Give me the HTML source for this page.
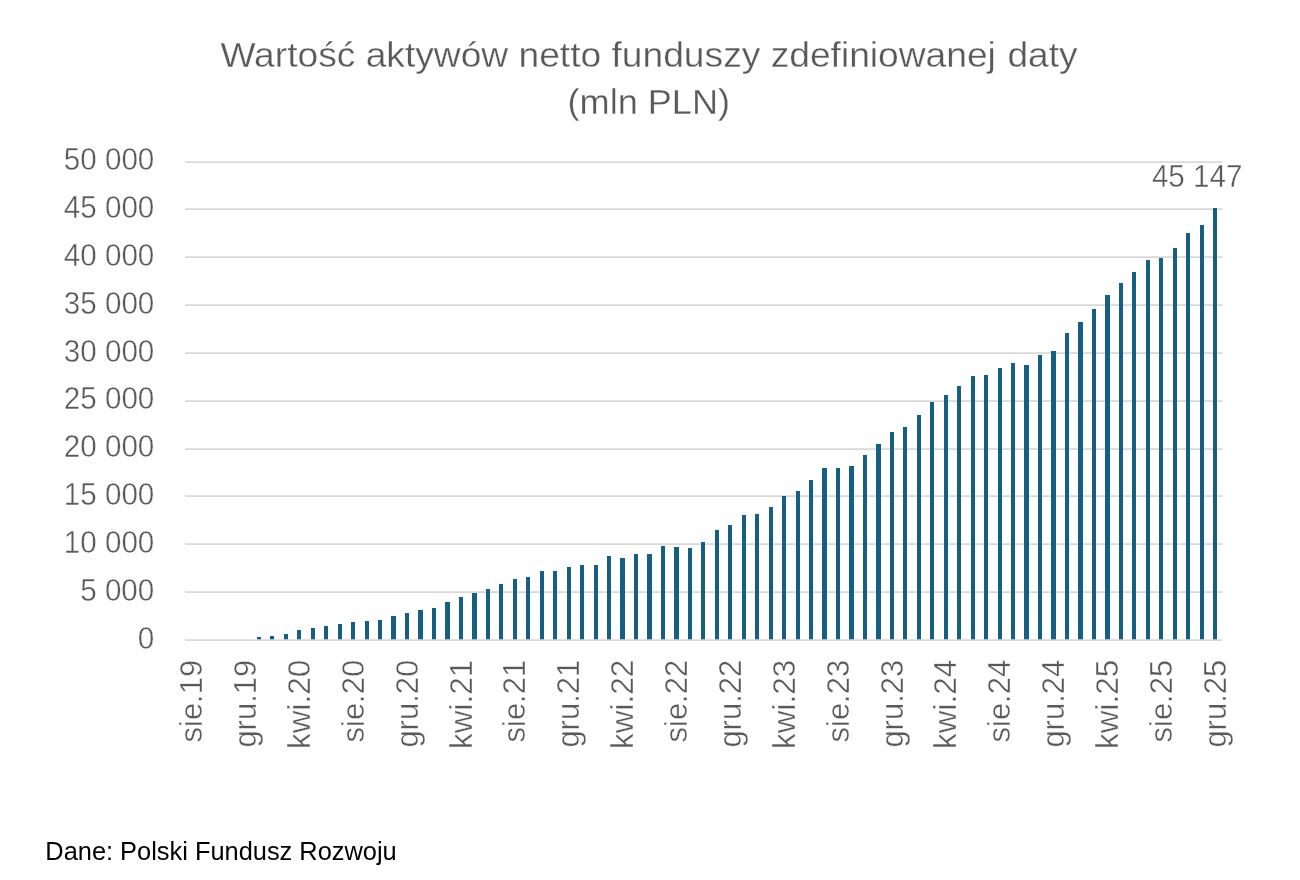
<!DOCTYPE html>
<html lang="pl"><head><meta charset="utf-8"><title>Wartość aktywów netto funduszy zdefiniowanej daty</title>
<style>
html,body{margin:0;padding:0;background:#fff}
body{width:1300px;height:880px;overflow:hidden;font-family:"Liberation Sans",sans-serif}
svg{display:block}
text{font-family:"Liberation Sans",sans-serif}
.t{fill:#595959;font-size:35px;stroke:#fff;stroke-width:.3px}
.a{fill:#595959;font-size:31px;stroke:#fff;stroke-width:.38px}
.f{fill:#000;font-size:25.4px}
</style></head><body>
<svg width="1300" height="880" viewBox="0 0 1300 880">
<rect width="1300" height="880" fill="#fff"/>
<text class="t" y="66.6"><tspan x="220.4" textLength="775.5" lengthAdjust="spacingAndGlyphs">Wartość aktywów netto funduszy zdefiniowanej</tspan> <tspan x="1007.5" textLength="70" lengthAdjust="spacingAndGlyphs">daty</tspan></text>
<text class="t" x="648.8" y="113.8" text-anchor="middle" textLength="162.5" lengthAdjust="spacingAndGlyphs">(mln PLN)</text>
<g stroke="#d9d9d9" stroke-width="1.7">
<line x1="185" x2="1222" y1="162.1" y2="162.1"/>
<line x1="185" x2="1222" y1="209.1" y2="209.1"/>
<line x1="185" x2="1222" y1="257.1" y2="257.1"/>
<line x1="185" x2="1222" y1="305.1" y2="305.1"/>
<line x1="185" x2="1222" y1="353.1" y2="353.1"/>
<line x1="185" x2="1222" y1="401.1" y2="401.1"/>
<line x1="185" x2="1222" y1="449.1" y2="449.1"/>
<line x1="185" x2="1222" y1="496.1" y2="496.1"/>
<line x1="185" x2="1222" y1="544.1" y2="544.1"/>
<line x1="185" x2="1222" y1="592.1" y2="592.1"/>
</g>
<g fill="#156082">
<rect x="257" y="637" width="4" height="3"/>
<rect x="270" y="636" width="4" height="4"/>
<rect x="284" y="634" width="4" height="6"/>
<rect x="297" y="630" width="4" height="10"/>
<rect x="311" y="628" width="4" height="12"/>
<rect x="324" y="626" width="4" height="14"/>
<rect x="338" y="624" width="4" height="16"/>
<rect x="351" y="622" width="4" height="18"/>
<rect x="365" y="621" width="4" height="19"/>
<rect x="378" y="620" width="4" height="20"/>
<rect x="391" y="616" width="5" height="24"/>
<rect x="405" y="613" width="4" height="27"/>
<rect x="418" y="610" width="5" height="30"/>
<rect x="432" y="608" width="4" height="32"/>
<rect x="445" y="602" width="5" height="38"/>
<rect x="459" y="597" width="4" height="43"/>
<rect x="472" y="593" width="5" height="47"/>
<rect x="486" y="589" width="4" height="51"/>
<rect x="499" y="584" width="4" height="56"/>
<rect x="513" y="579" width="4" height="61"/>
<rect x="526" y="577" width="4" height="63"/>
<rect x="540" y="571" width="4" height="69"/>
<rect x="553" y="571" width="4" height="69"/>
<rect x="567" y="567" width="4" height="73"/>
<rect x="580" y="565" width="4" height="75"/>
<rect x="594" y="565" width="4" height="75"/>
<rect x="607" y="556" width="4" height="84"/>
<rect x="620" y="558" width="5" height="82"/>
<rect x="634" y="554" width="4" height="86"/>
<rect x="647" y="554" width="5" height="86"/>
<rect x="661" y="546" width="4" height="94"/>
<rect x="674" y="547" width="5" height="93"/>
<rect x="688" y="548" width="4" height="92"/>
<rect x="701" y="542" width="4" height="98"/>
<rect x="715" y="530" width="4" height="110"/>
<rect x="728" y="525" width="4" height="115"/>
<rect x="742" y="515" width="4" height="125"/>
<rect x="755" y="514" width="4" height="126"/>
<rect x="769" y="507" width="4" height="133"/>
<rect x="782" y="496" width="4" height="144"/>
<rect x="796" y="491" width="4" height="149"/>
<rect x="809" y="480" width="4" height="160"/>
<rect x="822" y="468" width="5" height="172"/>
<rect x="836" y="468" width="4" height="172"/>
<rect x="849" y="466" width="5" height="174"/>
<rect x="863" y="455" width="4" height="185"/>
<rect x="876" y="444" width="5" height="196"/>
<rect x="890" y="432" width="4" height="208"/>
<rect x="903" y="427" width="4" height="213"/>
<rect x="917" y="415" width="4" height="225"/>
<rect x="930" y="402" width="4" height="238"/>
<rect x="944" y="395" width="4" height="245"/>
<rect x="957" y="386" width="4" height="254"/>
<rect x="971" y="376" width="4" height="264"/>
<rect x="984" y="375" width="4" height="265"/>
<rect x="998" y="368" width="4" height="272"/>
<rect x="1011" y="363" width="4" height="277"/>
<rect x="1024" y="365" width="5" height="275"/>
<rect x="1038" y="355" width="4" height="285"/>
<rect x="1051" y="351" width="5" height="289"/>
<rect x="1065" y="333" width="4" height="307"/>
<rect x="1078" y="322" width="5" height="318"/>
<rect x="1092" y="309" width="4" height="331"/>
<rect x="1105" y="295" width="5" height="345"/>
<rect x="1119" y="283" width="4" height="357"/>
<rect x="1132" y="272" width="4" height="368"/>
<rect x="1146" y="260" width="4" height="380"/>
<rect x="1159" y="258" width="4" height="382"/>
<rect x="1173" y="248" width="4" height="392"/>
<rect x="1186" y="233" width="4" height="407"/>
<rect x="1200" y="225" width="4" height="415"/>
<rect x="1213" y="208" width="4" height="432"/>
</g>
<line x1="185" x2="1222" y1="640.1" y2="640.1" stroke="#d9d9d9" stroke-width="1.7"/>
<g class="a" text-anchor="end">
<text x="154.3" y="170.1" textLength="90.5" lengthAdjust="spacingAndGlyphs">50 000</text>
<text x="154.3" y="217.9" textLength="90.5" lengthAdjust="spacingAndGlyphs">45 000</text>
<text x="154.3" y="265.8" textLength="90.5" lengthAdjust="spacingAndGlyphs">40 000</text>
<text x="154.3" y="313.6" textLength="90.5" lengthAdjust="spacingAndGlyphs">35 000</text>
<text x="154.3" y="361.5" textLength="90.5" lengthAdjust="spacingAndGlyphs">30 000</text>
<text x="154.3" y="409.4" textLength="90.5" lengthAdjust="spacingAndGlyphs">25 000</text>
<text x="154.3" y="457.2" textLength="90.5" lengthAdjust="spacingAndGlyphs">20 000</text>
<text x="154.3" y="505.0" textLength="90.5" lengthAdjust="spacingAndGlyphs">15 000</text>
<text x="154.3" y="552.9" textLength="90.5" lengthAdjust="spacingAndGlyphs">10 000</text>
<text x="154.3" y="600.8" textLength="74.1" lengthAdjust="spacingAndGlyphs">5 000</text>
<text x="154.3" y="648.6" textLength="16.5" lengthAdjust="spacingAndGlyphs">0</text>
</g>
<g class="a" text-anchor="end">
<text transform="translate(202.2 659.8) rotate(-90)" textLength="82.7" lengthAdjust="spacingAndGlyphs">sie.19</text>
<text transform="translate(256.1 659.8) rotate(-90)" textLength="87.8" lengthAdjust="spacingAndGlyphs">gru.19</text>
<text transform="translate(310.0 659.8) rotate(-90)" textLength="89.2" lengthAdjust="spacingAndGlyphs">kwi.20</text>
<text transform="translate(363.8 659.8) rotate(-90)" textLength="82.7" lengthAdjust="spacingAndGlyphs">sie.20</text>
<text transform="translate(417.7 659.8) rotate(-90)" textLength="87.8" lengthAdjust="spacingAndGlyphs">gru.20</text>
<text transform="translate(471.6 659.8) rotate(-90)" textLength="89.2" lengthAdjust="spacingAndGlyphs">kwi.21</text>
<text transform="translate(525.4 659.8) rotate(-90)" textLength="82.7" lengthAdjust="spacingAndGlyphs">sie.21</text>
<text transform="translate(579.3 659.8) rotate(-90)" textLength="87.8" lengthAdjust="spacingAndGlyphs">gru.21</text>
<text transform="translate(633.1 659.8) rotate(-90)" textLength="89.2" lengthAdjust="spacingAndGlyphs">kwi.22</text>
<text transform="translate(687.0 659.8) rotate(-90)" textLength="82.7" lengthAdjust="spacingAndGlyphs">sie.22</text>
<text transform="translate(740.9 659.8) rotate(-90)" textLength="87.8" lengthAdjust="spacingAndGlyphs">gru.22</text>
<text transform="translate(794.7 659.8) rotate(-90)" textLength="89.2" lengthAdjust="spacingAndGlyphs">kwi.23</text>
<text transform="translate(848.6 659.8) rotate(-90)" textLength="82.7" lengthAdjust="spacingAndGlyphs">sie.23</text>
<text transform="translate(902.5 659.8) rotate(-90)" textLength="87.8" lengthAdjust="spacingAndGlyphs">gru.23</text>
<text transform="translate(956.3 659.8) rotate(-90)" textLength="89.2" lengthAdjust="spacingAndGlyphs">kwi.24</text>
<text transform="translate(1010.2 659.8) rotate(-90)" textLength="82.7" lengthAdjust="spacingAndGlyphs">sie.24</text>
<text transform="translate(1064.1 659.8) rotate(-90)" textLength="87.8" lengthAdjust="spacingAndGlyphs">gru.24</text>
<text transform="translate(1117.9 659.8) rotate(-90)" textLength="89.2" lengthAdjust="spacingAndGlyphs">kwi.25</text>
<text transform="translate(1171.8 659.8) rotate(-90)" textLength="82.7" lengthAdjust="spacingAndGlyphs">sie.25</text>
<text transform="translate(1225.6 659.8) rotate(-90)" textLength="87.8" lengthAdjust="spacingAndGlyphs">gru.25</text>
</g>
<text class="a" x="1242.4" y="187.1" text-anchor="end" textLength="90.5" lengthAdjust="spacingAndGlyphs">45 147</text>
<text class="f" x="45.3" y="860">Dane: Polski Fundusz Rozwoju</text>
</svg></body></html>
